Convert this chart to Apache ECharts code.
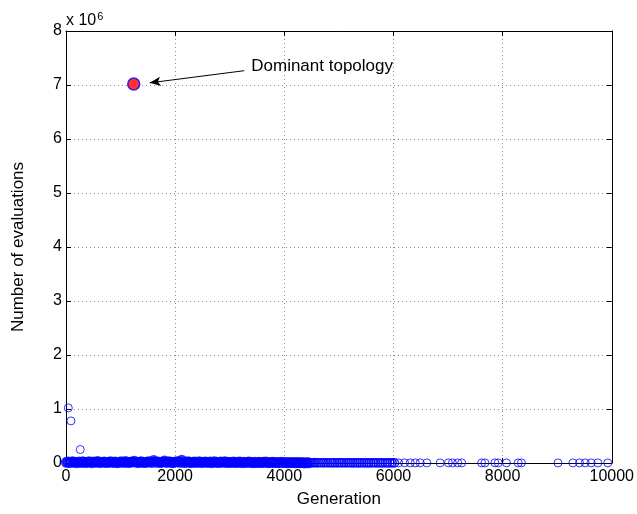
<!DOCTYPE html>
<html>
<head>
<meta charset="utf-8">
<script src="https://cdn.jsdelivr.net/npm/echarts@6/dist/echarts.min.js"></script>
<style>
  html, body { margin: 0; padding: 0; background: #fff; }
  #chart { width: 637px; height: 514px; }
</style>
</head>
<body>
<div id="chart"></div>
<script>
// axis ticks
const genTicks = [0, 2000, 4000, 6000, 8000, 10000]
const evalTicks = [0, 1, 2, 3, 4, 5, 6, 7, 8] // x 10^6

// the topology that got most evaluations
const dominant = [1241, 7020000]

// the few early outliers
const outliers = [[42, 1020000], [91, 780000], [261, 250000]]

// dense band near zero, generations 0 - 4500
const densePoints = [
  [5, 12000], [38, 18000], [71, 9000], [118, 22000], [152, 14000], [197, 6000], [236, 19000], [274, 11000],
  [309, 24000], [351, 8000], [392, 15000], [428, 21000], [466, 5000], [507, 17000], [549, 12000], [583, 26000],
  [621, 9000], [664, 16000], [702, 20000], [741, 7000], [779, 13000], [818, 23000], [862, 10000], [899, 18000],
  [937, 6000], [978, 14000], [1016, 21000], [1057, 11000], [1094, 27000], [1133, 8000], [1176, 16000], [1213, 19000],
  [1252, 31000], [1291, 12000], [1334, 7000], [1372, 22000], [1411, 15000], [1449, 9000], [1492, 18000], [1530, 25000],
  [1569, 11000], [1608, 44000], [1647, 14000], [1689, 20000], [1726, 8000], [1768, 17000], [1805, 36000], [1846, 10000],
  [1884, 21000], [1927, 13000], [1963, 6000], [2004, 19000], [2045, 24000], [2083, 12000], [2121, 52000], [2162, 9000],
  [2203, 16000], [2241, 22000], [2280, 7000], [2322, 14000], [2361, 18000], [2398, 11000], [2440, 25000], [2479, 8000],
  [2518, 15000], [2557, 20000], [2598, 10000], [2637, 17000], [2676, 6000], [2714, 23000], [2756, 12000], [2795, 9000],
  [2833, 19000], [2874, 14000], [2913, 21000], [2951, 7000], [2993, 16000], [3032, 11000], [3070, 18000], [3111, 8000],
  [3150, 13000], [3188, 20000], [3229, 6000], [3268, 15000], [3307, 10000], [3346, 17000], [3385, 12000], [3424, 5000],
  [3466, 14000], [3503, 9000], [3544, 16000], [3582, 7000], [3621, 12000], [3663, 18000], [3701, 6000], [3740, 11000],
  [3781, 14000], [3819, 8000], [3858, 10000], [3897, 5000], [3938, 13000], [3976, 7000], [4015, 9000], [4056, 4000],
  [4094, 11000], [4133, 6000], [4172, 8000], [4213, 3000], [4251, 9000], [4290, 5000], [4331, 7000], [4370, 2000],
  [4408, 6000], [4447, 4000]
]

// thinner part of the band, generations 4500 - 6000
const midPoints = [
  [4483, 5000], [4521, 3000], [4560, 7000], [4602, 2000], [4640, 4000], [4681, 6000], [4719, 3000], [4763, 5000],
  [4801, 2000], [4845, 6000], [4884, 3000], [4926, 4000], [4967, 2000], [5010, 5000], [5049, 3000], [5092, 4000],
  [5133, 2000], [5176, 5000], [5214, 3000], [5258, 2000], [5297, 4000], [5339, 3000], [5381, 2000], [5422, 4000],
  [5463, 3000], [5508, 2000], [5548, 3000], [5590, 2000], [5633, 4000], [5675, 2000], [5718, 3000], [5761, 2000],
  [5803, 3000], [5849, 2000], [5890, 3000], [5936, 2000], [5978, 3000], [6020, 2000]
]

// single rings, generations 6000 - 10000
const tailPoints = [
  [6095, 2000], [6204, 3000], [6308, 2000], [6399, 2000], [6490, 3000], [6612, 2000], [6855, 2000], [7007, 3000],
  [7080, 2000], [7177, 2000], [7250, 2000], [7615, 2000], [7676, 2000], [7859, 3000], [7920, 2000], [8071, 2000],
  [8285, 2000], [8345, 2000], [9015, 2000], [9288, 2000], [9410, 2000], [9513, 2000], [9622, 2000], [9745, 2000],
  [9927, 2000]
]

// arrow of the annotation, from the text to the point
const arrowFrom = [3266, 7265000]
const arrowTo = [1533, 7040000]

const font = 'Liberation Sans, Arial, Helvetica, sans-serif'
const gridLine = { show: true, lineStyle: { color: '#8a8a8a', type: [1, 3], width: 1 } }
const blackAxis = { show: true, onZero: false, lineStyle: { color: '#000', width: 1 } }
const innerTick = { show: true, inside: true, length: 5, lineStyle: { color: '#000' } }

const chart = echarts.init(document.getElementById('chart'))

chart.setOption({
  animation: false,
  grid: {
    left: 66,
    right: 23,
    top: 31,
    bottom: 51
  },
  xAxis: [{
    type: 'value',
    min: genTicks[0],
    max: genTicks[genTicks.length - 1],
    interval: 2000,
    name: 'Generation',
    nameLocation: 'middle',
    nameGap: 28,
    nameTextStyle: { fontFamily: font, fontSize: 17, color: '#000' },
    axisLine: blackAxis,
    axisTick: innerTick,
    axisLabel: { fontFamily: font, fontSize: 16, color: '#000', margin: 6, formatter: (v) => String(v) },
    splitLine: gridLine
  }, {
    type: 'value',
    position: 'top',
    min: genTicks[0],
    max: genTicks[genTicks.length - 1],
    interval: 2000,
    axisLine: blackAxis,
    axisTick: innerTick,
    axisLabel: { show: false },
    splitLine: { show: false }
  }],
  yAxis: [{
    type: 'value',
    min: evalTicks[0] * 1e6,
    max: evalTicks[evalTicks.length - 1] * 1e6,
    interval: 1e6,
    name: 'Number of evaluations',
    nameLocation: 'middle',
    nameGap: 39,
    nameTextStyle: { fontFamily: font, fontSize: 17, color: '#000' },
    axisLine: blackAxis,
    axisTick: innerTick,
    axisLabel: {
      fontFamily: font, fontSize: 16, color: '#000', margin: 4,
      formatter: (v) => String(v / 1e6)
    },
    splitLine: gridLine
  }, {
    type: 'value',
    position: 'right',
    min: evalTicks[0] * 1e6,
    max: evalTicks[evalTicks.length - 1] * 1e6,
    interval: 1e6,
    axisLine: blackAxis,
    axisTick: innerTick,
    axisLabel: { show: false },
    splitLine: { show: false }
  }],
  series: [{
    // so many points overlap here that the band reads as solid
    type: 'scatter',
    symbol: 'circle',
    symbolSize: 8,
    itemStyle: { color: 'rgba(0,0,0,0)', borderColor: '#0000ff', borderWidth: 3 },
    data: densePoints,
    z: 3
  }, {
    type: 'scatter',
    symbol: 'circle',
    symbolSize: 8,
    itemStyle: { color: 'rgba(0,0,0,0)', borderColor: '#0000ff', borderWidth: 1.6 },
    data: midPoints,
    z: 3
  }, {
    type: 'scatter',
    symbol: 'circle',
    symbolSize: 8,
    itemStyle: { color: 'rgba(0,0,0,0)', borderColor: '#0000ff', borderWidth: 1 },
    data: tailPoints.concat(outliers),
    z: 3
  }, {
    type: 'scatter',
    symbol: 'circle',
    symbolSize: 12,
    itemStyle: { color: '#ff0000', borderColor: '#0000ff', borderWidth: 1.5 },
    data: [dominant],
    z: 5,
    markLine: {
      silent: true,
      symbol: ['none', 'arrow'],
      symbolSize: [7, 11],
      label: { show: false },
      lineStyle: { color: '#000', width: 1, type: 'solid' },
      data: [[{ coord: arrowFrom }, { coord: arrowTo }]]
    }
  }]
})

// text next to the arrow and the exponent of the y axis
const textAt = chart.convertToPixel({ gridIndex: 0 }, arrowFrom)
chart.setOption({
  graphic: [{
    type: 'text',
    x: textAt[0] + 7,
    y: textAt[1] - 4,
    style: {
      text: 'Dominant topology',
      font: '17px ' + font,
      fill: '#000',
      verticalAlign: 'middle'
    }
  }, {
    type: 'text',
    x: 66,
    y: 11,
    style: {
      text: '{b|x 10}{s|6}',
      rich: {
        b: { font: '16px ' + font, fill: '#000', verticalAlign: 'bottom', lineHeight: 18 },
        s: { font: '11px ' + font, fill: '#000', verticalAlign: 'top', lineHeight: 18, padding: [0, 0, 10, 1] }
      }
    }
  }]
})
</script>
</body>
</html>
